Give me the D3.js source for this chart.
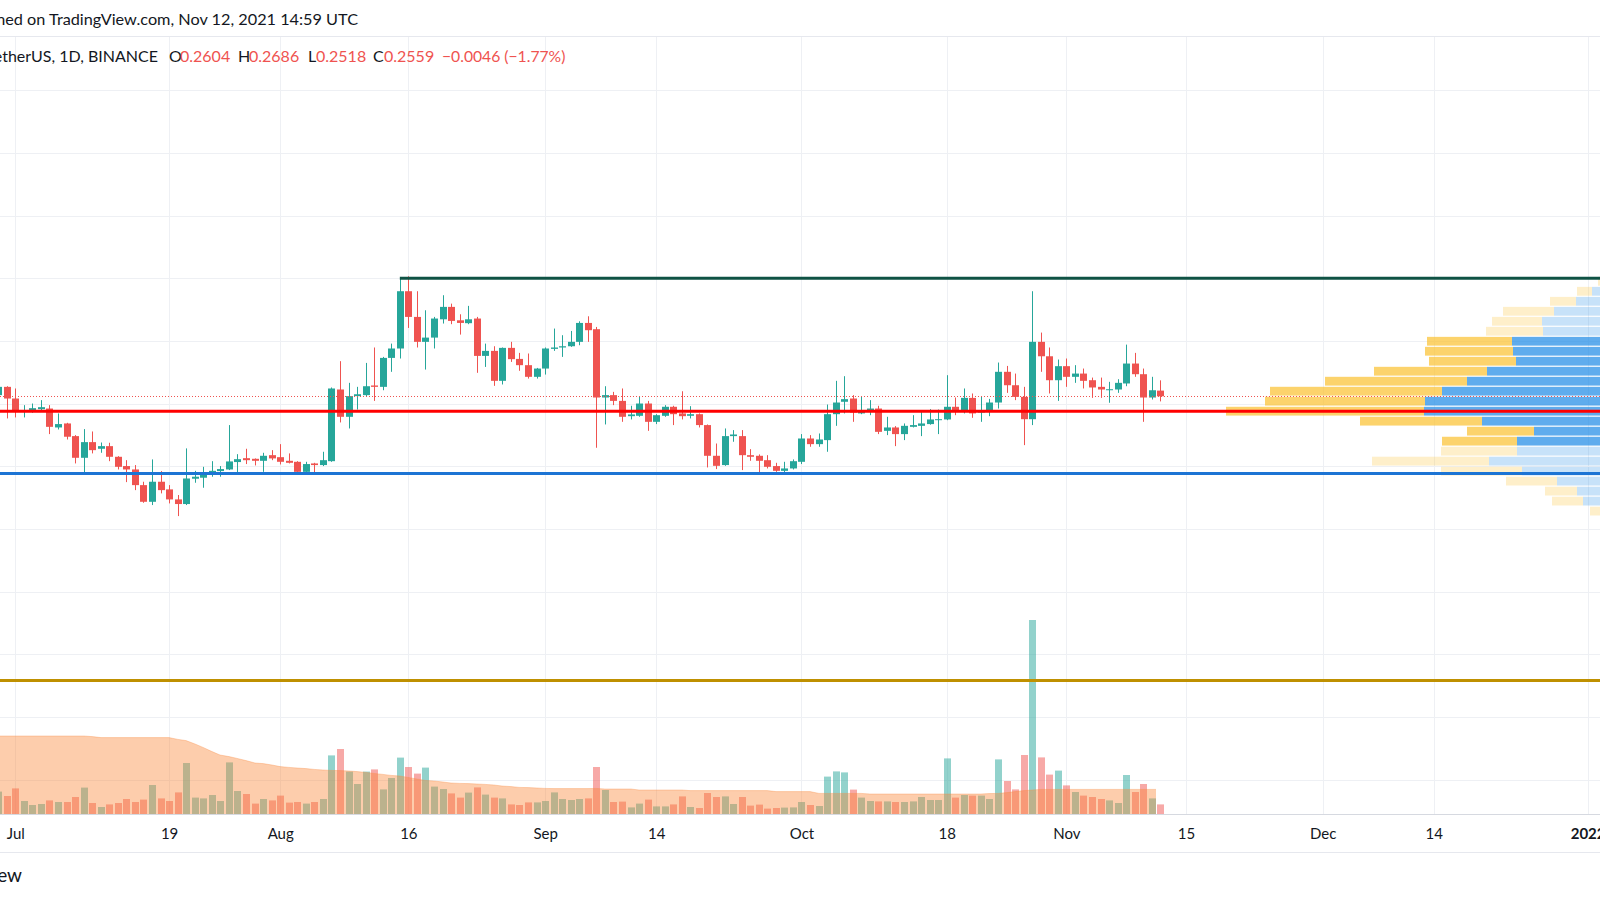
<!DOCTYPE html>
<html>
<head>
<meta charset="utf-8">
<script src="https://cdn.jsdelivr.net/npm/d3@7"></script>
<style>
html,body{margin:0;padding:0;background:#fff;}
svg{display:block;}
text{font-family:"Lato","Noto Sans",sans-serif;}
</style>
</head>
<body>
<svg id="chart" width="1600" height="900"></svg>
<script>
// ---------------- DATA ----------------
const firstDay = "2021-06-29";
const opens = [0.2568,0.2634,0.2541,0.2435,0.2443,0.2456,0.2461,0.2310,0.2342,0.2241,0.2068,0.2193,0.2140,0.2161,0.2076,0.2002,0.1975,0.1850,0.1717,0.1877,0.1816,0.1736,0.1699,0.1901,0.1909,0.1943,0.1962,0.1975,0.2034,0.2065,0.2060,0.2044,0.2089,0.2073,0.2044,0.2036,0.1956,0.2023,0.2010,0.2041,0.2613,0.2395,0.2560,0.2568,0.2645,0.2634,0.2865,0.2940,0.3397,0.3192,0.2993,0.3027,0.3173,0.3272,0.3165,0.3142,0.3179,0.2881,0.2921,0.2682,0.2945,0.2857,0.2807,0.2714,0.2780,0.2937,0.2948,0.2958,0.2993,0.3144,0.3094,0.2549,0.2568,0.2522,0.2400,0.2403,0.2501,0.2355,0.2403,0.2475,0.2422,0.2403,0.2416,0.2329,0.2084,0.2010,0.2241,0.2241,0.2089,0.2084,0.2049,0.2002,0.1964,0.1983,0.2036,0.2222,0.2177,0.2209,0.2416,0.2515,0.2541,0.2422,0.2443,0.2461,0.2283,0.2310,0.2257,0.2315,0.2323,0.2337,0.2371,0.2374,0.2475,0.2448,0.2546,0.2429,0.2435,0.2509,0.2754,0.2647,0.2554,0.2376,0.2993,0.2878,0.2687,0.2799,0.2714,0.2740,0.2687,0.2634,0.2607,0.2613,0.2661,0.2820,0.2735,0.2549,0.2604];
const highs = [0.2650,0.2639,0.2621,0.2488,0.2501,0.2528,0.2488,0.2422,0.2347,0.2249,0.2297,0.2278,0.2190,0.2188,0.2081,0.2049,0.2010,0.1877,0.2055,0.1962,0.1850,0.1771,0.2143,0.1964,0.1996,0.2041,0.2002,0.2329,0.2097,0.2140,0.2063,0.2108,0.2129,0.2177,0.2103,0.2041,0.2036,0.2028,0.2116,0.2629,0.2839,0.2666,0.2634,0.2825,0.2948,0.2873,0.2979,0.3498,0.3516,0.3397,0.3245,0.3192,0.3365,0.3298,0.3213,0.3280,0.3192,0.2979,0.2958,0.2948,0.2993,0.2905,0.2900,0.2785,0.2948,0.3099,0.3046,0.3080,0.3157,0.3197,0.3112,0.2639,0.2594,0.2621,0.2483,0.2554,0.2522,0.2416,0.2488,0.2483,0.2599,0.2480,0.2422,0.2334,0.2182,0.2302,0.2289,0.2289,0.2137,0.2095,0.2089,0.2028,0.2036,0.2055,0.2257,0.2249,0.2262,0.2493,0.2682,0.2719,0.2568,0.2554,0.2528,0.2483,0.2395,0.2321,0.2342,0.2408,0.2435,0.2456,0.2453,0.2727,0.2549,0.2621,0.2581,0.2554,0.2538,0.2828,0.2801,0.2740,0.2634,0.3397,0.3067,0.2948,0.2852,0.2860,0.2807,0.2780,0.2708,0.2708,0.2674,0.2695,0.2971,0.2905,0.2780,0.2714,0.2686];
const lows = [0.2560,0.2382,0.2390,0.2390,0.2427,0.2435,0.2257,0.2294,0.2214,0.2023,0.1949,0.2103,0.2108,0.2041,0.1975,0.1874,0.1810,0.1709,0.1691,0.1784,0.1704,0.1603,0.1691,0.1869,0.1829,0.1917,0.1917,0.1970,0.1949,0.2018,0.2007,0.1956,0.2049,0.2015,0.2023,0.1949,0.1949,0.1949,0.2002,0.2036,0.2350,0.2302,0.2453,0.2560,0.2522,0.2607,0.2754,0.2860,0.3104,0.2948,0.2772,0.2940,0.3139,0.3134,0.3051,0.3134,0.2746,0.2793,0.2642,0.2653,0.2833,0.2762,0.2700,0.2700,0.2732,0.2921,0.2873,0.2953,0.2966,0.2993,0.2148,0.2334,0.2488,0.2355,0.2374,0.2395,0.2283,0.2337,0.2395,0.2329,0.2374,0.2382,0.2310,0.1991,0.1978,0.2004,0.2196,0.1970,0.2044,0.1949,0.1983,0.1956,0.1943,0.1975,0.2018,0.2156,0.2156,0.2116,0.2323,0.2422,0.2355,0.2416,0.2408,0.2257,0.2249,0.2161,0.2209,0.2310,0.2241,0.2332,0.2257,0.2368,0.2408,0.2422,0.2387,0.2355,0.2400,0.2461,0.2586,0.2528,0.2169,0.2329,0.2754,0.2581,0.2522,0.2634,0.2666,0.2621,0.2546,0.2546,0.2507,0.2586,0.2639,0.2714,0.2355,0.2533,0.2518];
const closes = [0.2634,0.2541,0.2435,0.2448,0.2464,0.2472,0.2315,0.2337,0.2236,0.2068,0.2193,0.2129,0.2161,0.2076,0.1996,0.1975,0.1850,0.1717,0.1877,0.1810,0.1736,0.1699,0.1903,0.1917,0.1935,0.1964,0.1978,0.2039,0.2057,0.2049,0.2044,0.2084,0.2063,0.2036,0.2028,0.1956,0.2018,0.2010,0.2049,0.2621,0.2395,0.2560,0.2575,0.2639,0.2634,0.2865,0.2940,0.3397,0.3192,0.2993,0.3027,0.3179,0.3272,0.3160,0.3144,0.3173,0.2881,0.2921,0.2682,0.2945,0.2855,0.2807,0.2714,0.2780,0.2940,0.2948,0.2958,0.2993,0.3144,0.3086,0.2549,0.2568,0.2522,0.2395,0.2414,0.2501,0.2355,0.2408,0.2475,0.2416,0.2400,0.2416,0.2329,0.2084,0.2004,0.2241,0.2254,0.2089,0.2076,0.2044,0.1996,0.1964,0.1983,0.2041,0.2222,0.2177,0.2214,0.2416,0.2509,0.2536,0.2429,0.2440,0.2461,0.2275,0.2310,0.2257,0.2323,0.2329,0.2342,0.2374,0.2376,0.2475,0.2448,0.2546,0.2422,0.2448,0.2509,0.2754,0.2647,0.2554,0.2376,0.2993,0.2878,0.2687,0.2799,0.2714,0.2740,0.2682,0.2629,0.2613,0.2615,0.2666,0.2820,0.2735,0.2549,0.2607,0.2559];
// daily volume, billions DOGE
const volumes = [1.12,0.90,1.28,0.65,0.45,0.50,0.68,0.60,0.60,0.85,1.32,0.55,0.35,0.48,0.55,0.75,0.60,0.72,1.45,0.78,0.65,1.08,2.55,0.82,0.78,0.95,0.65,2.58,1.15,1.00,0.52,0.75,0.68,0.92,0.57,0.60,0.52,0.60,0.75,2.93,3.25,2.12,1.50,2.12,2.23,1.23,1.80,2.82,2.35,2.02,2.32,1.37,1.25,1.03,0.82,1.07,1.33,0.97,0.82,0.78,0.48,0.45,0.58,0.58,0.65,1.08,0.75,0.70,0.75,0.78,2.35,1.20,0.60,0.62,0.33,0.52,0.72,0.38,0.38,0.48,0.88,0.35,0.30,1.05,0.85,0.88,0.50,0.85,0.42,0.47,0.27,0.30,0.32,0.33,0.60,0.45,0.40,1.87,2.13,2.08,1.22,0.82,0.65,0.63,0.63,0.60,0.60,0.63,0.85,0.70,0.70,2.78,0.82,0.95,0.92,0.92,0.75,2.73,1.65,1.23,2.95,9.70,2.83,1.97,2.17,1.43,1.10,0.92,0.85,0.75,0.68,0.55,1.95,1.10,1.50,0.78,0.48];
// 20-day volume moving average (area), billions DOGE
const volumeMA = [3.90,3.90,3.90,3.90,3.90,3.90,3.90,3.90,3.90,3.90,3.90,3.87,3.82,3.82,3.82,3.82,3.82,3.82,3.82,3.82,3.82,3.73,3.67,3.50,3.33,3.12,2.95,2.87,2.78,2.67,2.55,2.52,2.45,2.37,2.33,2.30,2.27,2.23,2.20,2.18,2.17,2.15,2.12,2.08,2.03,1.98,1.93,1.90,1.83,1.75,1.68,1.65,1.60,1.55,1.53,1.52,1.50,1.48,1.45,1.40,1.37,1.33,1.32,1.30,1.28,1.27,1.27,1.27,1.27,1.27,1.28,1.25,1.25,1.25,1.25,1.20,1.20,1.20,1.20,1.20,1.20,1.17,1.17,1.17,1.17,1.17,1.17,1.17,1.17,1.17,1.17,1.12,1.12,1.12,1.12,1.12,1.03,1.03,1.03,1.03,1.03,1.03,1.00,1.00,1.00,1.00,1.00,1.00,1.00,1.00,1.00,1.00,1.00,1.00,1.00,1.00,1.02,1.03,1.07,1.12,1.17,1.20,1.23,1.23,1.23,1.23,1.23,1.23,1.23,1.23,1.23,1.23,1.23,1.23,1.23,1.23];

// Volume profile (visible range), 24 rows from top (high) to bottom (low)
const profileHigh = 0.3516, profileLow = 0.1603;
const profileUp =   [3.5,4.8,6.4,8.6,9.8,9.7,12.8,12.7,12.4,15.3,17.3,19.8,21.5,21.6,15.8,10.6,12.3,12.3,15.1,11.8,8.3,6.3,5.7,4.0];
const profileDown = [0.7,1.5,2.6,5.1,5.0,5.7,8.5,8.8,8.7,11.3,14.2,17.2,16.0,19.8,12.2,6.7,7.5,7.6,11.7,8.1,5.1,3.2,3.1,1.0];
const valueAreaRows = [6, 16];

// price grid and time ticks
const priceTicks = [0.50,0.45,0.40,0.35,0.30,0.25,0.20,0.15,0.10,0.05,0.00,-0.05];
const timeTicks = ["2021-07-01","2021-07-19","2021-08-01","2021-08-16","2021-09-01","2021-09-14","2021-10-01","2021-10-18","2021-11-01","2021-11-15","2021-12-01","2021-12-14","2022-01-01"];
const timeTickLabels = ["Jul","19","Aug","16","Sep","14","Oct","18","Nov","15","Dec","14","2022"];

// drawn horizontal levels
const resistanceLevel = 0.3500, resistanceFrom = "2021-08-15";
const redLevel = 0.2440;
const blueLevel = 0.1942;
const goldLevel = 0.0292;

const headerTitle = "Published on TradingView.com, Nov 12, 2021 14:59 UTC";
const symbolText = "Dogecoin / TetherUS, 1D, BINANCE";
const ohlcLabels = ["O","H","L","C"];
const ohlcValues = ["0.2604","0.2686","0.2518","0.2559"];
const changeText = "\u22120.0046 (\u22121.77%)";

// ---------------- CHART ----------------
const W = 1600, H = 900;
const paneTop = 36.5, paneBottom = 814;
const svg = d3.select("#chart");
const parse = d3.utcParse("%Y-%m-%d");
const start = parse(firstDay);
const dates = opens.map((_, i) => d3.utcDay.offset(start, i));

const x = d3.scaleUtc().domain([parse("2021-07-01"), parse("2022-01-01")]).range([15.3, 1587.6]);
const y = d3.scaleLinear().domain([0, 0.5]).range([717, 90.3]);
const yv = d3.scaleLinear().domain([0, 10]).range([paneBottom, 614]);

const UP = "#26a69a", DOWN = "#ef5350";

svg.append("rect").attr("width", W).attr("height", H).attr("fill", "#fff");

svg.append("defs").append("clipPath").attr("id", "pane")
  .append("rect").attr("x", 0).attr("y", paneTop).attr("width", W).attr("height", paneBottom - paneTop);

const pane = svg.append("g").attr("clip-path", "url(#pane)");

// grid
pane.append("g").selectAll("line").data(priceTicks).join("line")
  .attr("x1", 0).attr("x2", W)
  .attr("y1", d => Math.round(y(d)) + 0.5).attr("y2", d => Math.round(y(d)) + 0.5)
  .attr("stroke", "#eef0f4").attr("stroke-width", 1);
pane.append("g").selectAll("line").data(timeTicks).join("line")
  .attr("x1", d => Math.round(x(parse(d))) + 0.5).attr("x2", d => Math.round(x(parse(d))) + 0.5)
  .attr("y1", paneTop).attr("y2", paneBottom)
  .attr("stroke", "#eef0f4").attr("stroke-width", 1);

const cx = i => Math.round(x(dates[i]));

// volume bars
pane.append("g").selectAll("rect").data(volumes).join("rect")
  .attr("x", (d, i) => cx(i) - 3).attr("width", 7)
  .attr("y", d => yv(d)).attr("height", d => paneBottom - yv(d))
  .attr("fill", (d, i) => closes[i] >= opens[i] ? UP : DOWN)
  .attr("fill-opacity", 0.5);

// volume MA area
const maPts = volumeMA.map((v, i) => [i, v]);
const area = d3.area()
  .x(d => d[0] === volumeMA.length - 1 ? cx(d[0]) + 4 : (d[0] === 0 ? cx(0) - 6 : cx(d[0])))
  .y0(paneBottom).y1(d => yv(d[1]));
pane.append("path").datum(maPts).attr("d", area)
  .attr("fill", "rgb(250,130,48)").attr("fill-opacity", 0.4);
pane.append("path").datum(maPts).attr("d", area.lineY1())
  .attr("fill", "none").attr("stroke", "rgb(250,140,70)").attr("stroke-opacity", 0.35).attr("stroke-width", 1);

const lvl = (p, x1, color, w) => pane.append("line")
  .attr("x1", x1).attr("x2", W + 10)
  .attr("y1", y(p)).attr("y2", y(p))
  .attr("stroke", color).attr("stroke-width", w);

// volume profile
const rowStep = (profileHigh - profileLow) / profileUp.length;
const anchorRight = 1640;
const pw = d3.scaleLinear().domain([0, 45]).range([0, 450]);
const prof = pane.append("g");
profileUp.forEach((u, i) => {
  const top = y(profileHigh - i * rowStep), bot = y(profileHigh - (i + 1) * rowStep);
  const inVA = i >= valueAreaRows[0] && i <= valueAreaRows[1];
  const h = bot - top - 1.2;
  prof.append("rect").attr("x", anchorRight - pw(u)).attr("width", pw(u))
    .attr("y", top + 0.6).attr("height", h)
    .attr("fill", "rgb(33,140,230)").attr("fill-opacity", inVA ? 0.72 : 0.25);
  prof.append("rect").attr("x", anchorRight - pw(u) - pw(profileDown[i])).attr("width", pw(profileDown[i]))
    .attr("y", top + 0.6).attr("height", h)
    .attr("fill", "rgb(251,192,45)").attr("fill-opacity", inVA ? 0.7 : 0.25);
});

// candles
const cg = pane.append("g");
opens.forEach((o, i) => {
  const c = closes[i], col = c >= o ? UP : DOWN;
  const X = cx(i);
  cg.append("line").attr("x1", X + 0.5).attr("x2", X + 0.5)
    .attr("y1", y(highs[i])).attr("y2", y(lows[i]))
    .attr("stroke", col).attr("stroke-width", 1);
  const t = y(Math.max(o, c)), b = y(Math.min(o, c));
  cg.append("rect").attr("x", X - 3).attr("width", 7)
    .attr("y", t).attr("height", Math.max(1, b - t)).attr("fill", col);
});

// drawn levels
lvl(resistanceLevel, x(parse(resistanceFrom)), "#0f5244", 3);
lvl(redLevel, 0, "#ff0000", 3);
lvl(blueLevel, 0, "#1c74d4", 3);
lvl(goldLevel, 0, "#bf9000", 3);

// last price dotted line
pane.append("line").attr("x1", 0).attr("x2", W)
  .attr("y1", Math.round(y(closes[closes.length - 1])) + 0.5).attr("y2", Math.round(y(closes[closes.length - 1])) + 0.5)
  .attr("stroke", DOWN).attr("stroke-width", 1).attr("stroke-dasharray", "1,2");

// separators
svg.append("line").attr("x1", 0).attr("x2", W).attr("y1", 36.5).attr("y2", 36.5).attr("stroke", "#e6e8ee");
svg.append("line").attr("x1", 0).attr("x2", W).attr("y1", 814.5).attr("y2", 814.5).attr("stroke", "#d6d9e0");
svg.append("line").attr("x1", 0).attr("x2", W).attr("y1", 852.5).attr("y2", 852.5).attr("stroke", "#e6e8ee");

// time axis
const axis = d3.axisBottom(x)
  .tickValues(timeTicks.map(parse))
  .tickFormat((d, i) => timeTickLabels[i])
  .tickSize(0).tickPadding(0);
const ax = svg.append("g").attr("transform", "translate(0,827)").call(axis);
ax.select(".domain").remove();
ax.selectAll("text")
  .attr("dy", 0).attr("y", 12)
  .attr("font-family", "Lato, 'Noto Sans', sans-serif")
  .attr("font-size", 15).attr("fill", "#131722")
  .attr("font-weight", (d, i) => timeTickLabels[i] === "2022" ? 700 : 400);

// header
svg.append("text").attr("x", 358).attr("y", 25).attr("text-anchor", "end")
  .attr("font-size", 16.25).attr("fill", "#131722").text(headerTitle);
svg.append("text").attr("x", 158).attr("y", 62).attr("text-anchor", "end")
  .attr("font-size", 16).attr("fill", "#131722").text(symbolText);
const labelX = [169, 238, 308, 373];
const valueX = [180, 249, 316, 384];
ohlcLabels.forEach((l, i) => {
  svg.append("text").attr("x", labelX[i]).attr("y", 62).attr("font-size", 16).attr("fill", "#131722").text(l);
  svg.append("text").attr("x", valueX[i]).attr("y", 62).attr("font-size", 16).attr("fill", DOWN).text(ohlcValues[i]);
});
svg.append("text").attr("x", 442).attr("y", 62).attr("font-size", 15.7).attr("fill", DOWN).text(changeText);

// footer
svg.append("text").attr("x", 22).attr("y", 882).attr("text-anchor", "end")
  .attr("font-size", 19).attr("fill", "#131722").text("TradingView");
</script>
</body>
</html>
